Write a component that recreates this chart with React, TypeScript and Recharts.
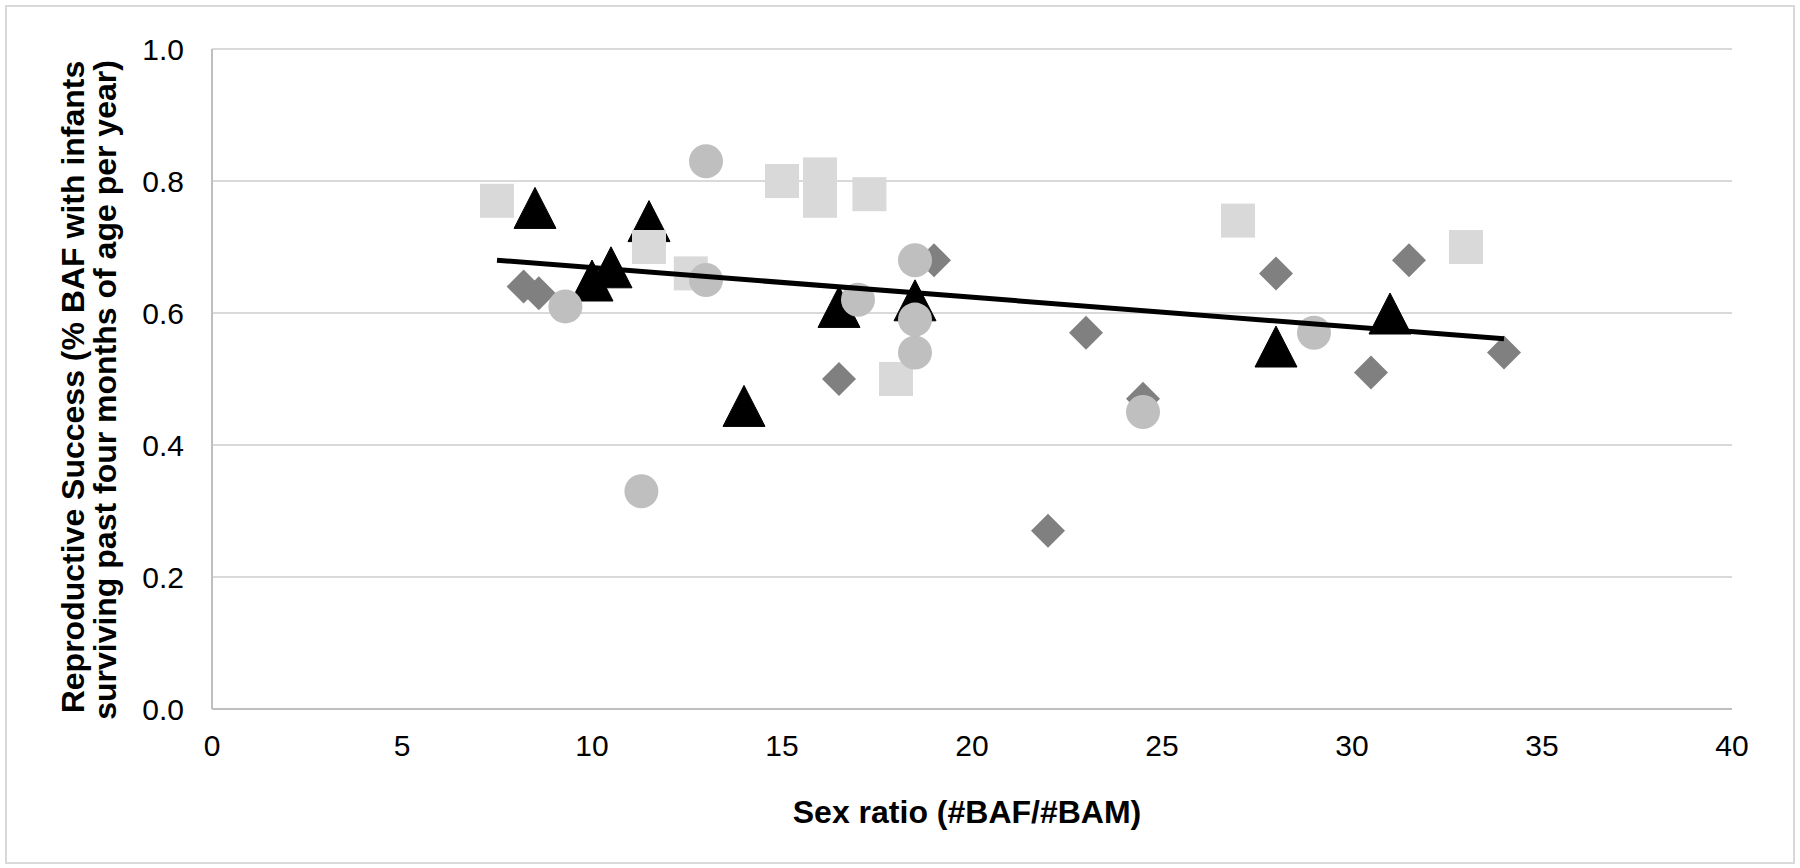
import React from 'react';
import {
  ScatterChart,
  Scatter,
  XAxis,
  YAxis,
  CartesianGrid,
} from 'recharts';

// values (x = sex ratio, y = reproductive success)
const diamonds = [
  { x: 8.2, y: 0.64 },
  { x: 8.6, y: 0.63 },
  { x: 16.5, y: 0.5 },
  { x: 19, y: 0.68 },
  { x: 22, y: 0.27 },
  { x: 23, y: 0.57 },
  { x: 24.5, y: 0.47 },
  { x: 28, y: 0.66 },
  { x: 30.5, y: 0.51 },
  { x: 31.5, y: 0.68 },
  { x: 34, y: 0.54 },
];

const triangles = [
  { x: 8.5, y: 0.76 },
  { x: 10, y: 0.65 },
  { x: 10.5, y: 0.67 },
  { x: 11.5, y: 0.74 },
  { x: 14, y: 0.46 },
  { x: 16.5, y: 0.61 },
  { x: 18.5, y: 0.62 },
  { x: 28, y: 0.55 },
  { x: 31, y: 0.6 },
];

const squares = [
  { x: 7.5, y: 0.77 },
  { x: 11.5, y: 0.7 },
  { x: 12.6, y: 0.66 },
  { x: 15, y: 0.8 },
  { x: 16, y: 0.81 },
  { x: 16, y: 0.77 },
  { x: 17.3, y: 0.78 },
  { x: 18, y: 0.5 },
  { x: 27, y: 0.74 },
  { x: 33, y: 0.7 },
];

const circles = [
  { x: 9.3, y: 0.61 },
  { x: 11.3, y: 0.33 },
  { x: 13, y: 0.83 },
  { x: 13, y: 0.65 },
  { x: 17, y: 0.62 },
  { x: 18.5, y: 0.68 },
  { x: 18.5, y: 0.59 },
  { x: 18.5, y: 0.54 },
  { x: 24.5, y: 0.45 },
  { x: 29, y: 0.57 },
];

// linear trend line, end points
const trendLine = [
  { x: 7.5, y: 0.68 },
  { x: 34, y: 0.561 },
];

const xTicks = [0, 5, 10, 15, 20, 25, 30, 35, 40];
const yTicks = [0, 0.2, 0.4, 0.6, 0.8, 1.0];

const FONT = '"Liberation Sans", Arial, sans-serif';
const M = 17; // half marker size

const Diamond = ({ cx, cy }: any) => (
  <polygon
    points={`${cx},${cy - M} ${cx + M},${cy} ${cx},${cy + M} ${cx - M},${cy}`}
    fill="#808080"
  />
);

const Triangle = ({ cx, cy }: any) => (
  <polygon
    points={`${cx},${cy - 20} ${cx + 21},${cy + 21} ${cx - 21},${cy + 21}`}
    fill="#000"
    stroke="#000"
    strokeWidth={1}
    strokeLinejoin="round"
  />
);

const Square = ({ cx, cy }: any) => (
  <rect x={cx - M} y={cy - M} width={M * 2} height={M * 2} fill="#d9d9d9" />
);

const Circle = ({ cx, cy }: any) => <circle cx={cx} cy={cy} r={M} fill="#bfbfbf" />;

const YTitle = () => (
  <g fontFamily={FONT} fontWeight="bold" fontSize={32} fill="#000">
    <text x={73} y={387} transform="rotate(-90 73 387)" textAnchor="middle" dominantBaseline="central">
      Reproductive Success (% BAF with infants
    </text>
    <text x={105} y={390} transform="rotate(-90 105 390)" textAnchor="middle" dominantBaseline="central">
      surviving past four months of age per year)
    </text>
  </g>
);

const XTitle = () => (
  <text
    x={967}
    y={812}
    textAnchor="middle"
    dominantBaseline="central"
    fontFamily={FONT}
    fontWeight="bold"
    fontSize={32}
    fill="#000"
  >
    Sex ratio (#BAF/#BAM)
  </text>
);

export default function App() {
  return (
    <div style={{ position: 'absolute', left: 0, top: 0, width: 1800, height: 868, background: '#fff' }}>
      <div
        style={{
          position: 'absolute',
          left: 5,
          top: 5,
          width: 1786,
          height: 855,
          border: '2px solid #d9d9d9',
        }}
      />
      <div style={{ position: 'absolute', left: 0, top: 0 }}>
        <ScatterChart width={1800} height={868} margin={{ top: 49, right: 68, bottom: 0, left: 0 }}>
          <CartesianGrid vertical={false} stroke="#d9d9d9" strokeWidth={2} />
          <XAxis
            type="number"
            dataKey="x"
            domain={[0, 40]}
            ticks={xTicks}
            height={159}
            tickSize={0}
            tickMargin={26}
            axisLine={{ stroke: '#bfbfbf', strokeWidth: 2 }}
            tick={{ fontFamily: FONT, fontSize: 30, fill: '#000' }}
            label={{ content: () => <XTitle /> }}
          />
          <YAxis
            type="number"
            dataKey="y"
            domain={[0, 1]}
            ticks={yTicks}
            width={212}
            tickSize={0}
            tickMargin={28}
            tickFormatter={(v: number) => v.toFixed(1)}
            axisLine={{ stroke: '#bfbfbf', strokeWidth: 2 }}
            tick={{ fontFamily: FONT, fontSize: 30, fill: '#000' }}
            label={{ content: () => <YTitle /> }}
          />
          <Scatter data={diamonds} shape={<Diamond />} isAnimationActive={false} />
          <Scatter data={triangles} shape={<Triangle />} isAnimationActive={false} />
          <Scatter data={squares} shape={<Square />} isAnimationActive={false} />
          <Scatter data={circles} shape={<Circle />} isAnimationActive={false} />
          <Scatter
            data={trendLine}
            line={{ stroke: '#000', strokeWidth: 5 }}
            shape={() => <g />}
            isAnimationActive={false}
          />
        </ScatterChart>
      </div>
    </div>
  );
}
